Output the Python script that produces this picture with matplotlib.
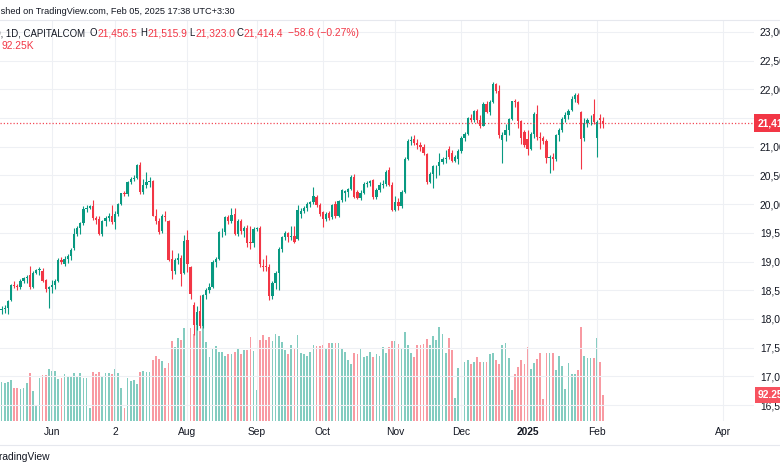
import numpy as np
import matplotlib.pyplot as plt
from matplotlib import transforms
from matplotlib.lines import Line2D

# daily candles, US100 CFD, 2024-05-10 .. 2025-02-05 (one entry per weekday bar)
opens = [
    18160, 18170, 18190, 18330, 18600, 18580, 18560, 18660, 18710, 18760,
    18560, 18800, 18850, 18840, 18680, 18520, 18560, 18590, 18670, 19030,
    18960, 19040, 19100, 19230, 19480, 19580, 19670, 19920, 19940, 19960,
    19760, 19740, 19480, 19700, 19760, 19800, 19690, 19830, 20000, 20190,
    20170, 20390, 20440, 20460, 20680, 20210, 20330, 20380, 20400, 19800,
    19700, 19530, 19800, 19700, 19040, 18840, 19030, 19060, 18800, 19370,
    18900, 18240, 17900, 18140, 17880, 18420, 18510, 18560, 19000, 19050,
    19510, 19520, 19770, 19710, 19830, 19480, 19710, 19530, 19580, 19340,
    19330, 19570, 19590, 18930, 18920, 18910, 18400, 18630, 18800, 19220,
    19430, 19500, 19430, 19440, 19400, 19830, 19880, 19930, 20000, 20030,
    20130, 19980, 19860, 19740, 19840, 19780, 20000, 19800, 20070, 20200,
    20210, 20270, 20480, 20210, 20110, 20200, 20360, 20370, 20420, 20120,
    20250, 20340, 20350, 20590, 20340, 19900, 20040, 19970, 20220, 20790,
    21100, 21130, 21070, 21030, 20990, 20870, 20390, 20530, 20660, 20670,
    20740, 20780, 20960, 20900, 20760, 20780, 20930, 21160, 21230, 21510,
    21460, 21620, 21470, 21370, 21750, 21600, 21780, 22090, 21980, 21120,
    21200, 21300, 21490, 21800, 21780, 21450, 21250, 21140, 20970, 21230,
    21580, 21170, 21150, 21100, 20800, 20830, 20780, 21200, 21290, 21480,
    21560, 21640, 21840, 21900, 21600, 21150, 21410, 21460, 21580, 21150,
    21500, 21456.5,
]
highs = [
    18220, 18250, 18330, 18610, 18660, 18610, 18700, 18730, 18770, 18920,
    18830, 18870, 18910, 18880, 18700, 18580, 18680, 18700, 19060, 19080,
    19090, 19130, 19240, 19590, 19620, 19690, 19960, 19980, 19990, 20080,
    19800, 19790, 19720, 19790, 19840, 19990, 19880, 20020, 20200, 20230,
    20400, 20470, 20500, 20700, 20740, 20440, 20560, 20480, 20420, 19920,
    19760, 19830, 19880, 19730, 19200, 19060, 19150, 19110, 19470, 19550,
    18920, 18290, 18230, 18420, 18440, 18540, 18620, 19030, 19080, 19530,
    19580, 19790, 19810, 19930, 19930, 19740, 19740, 19620, 19640, 19620,
    19600, 19610, 19620, 19050, 19120, 18960, 18660, 18840, 19250, 19450,
    19530, 19520, 19620, 19620, 19990, 19930, 19960, 20030, 20060, 20300,
    20160, 20020, 19890, 19870, 19880, 20010, 20060, 20070, 20260, 20250,
    20290, 20500, 20520, 20250, 20240, 20380, 20400, 20430, 20440, 20280,
    20380, 20420, 20600, 20640, 20380, 20150, 20110, 20240, 20820, 21130,
    21180, 21210, 21130, 21090, 21050, 20900, 20560, 20690, 20690, 20900,
    20830, 20940, 21010, 20940, 20850, 20960, 21180, 21260, 21520, 21570,
    21640, 21660, 21560, 21780, 21790, 21820, 22130, 22110, 22080, 21260,
    21400, 21500, 21800, 21830, 21800, 21470, 21300, 21290, 21250, 21600,
    21720, 21250, 21180, 21130, 20850, 20900, 21220, 21320, 21520, 21600,
    21650, 21880, 21930, 21940, 21620, 21500, 21500, 21560, 21840, 21470,
    21580, 21515.9,
]
lows = [
    18080, 18110, 18080, 18310, 18540, 18500, 18530, 18620, 18630, 18530,
    18540, 18790, 18760, 18640, 18470, 18200, 18450, 18520, 18650, 18950,
    18920, 18980, 19030, 19210, 19440, 19480, 19640, 19860, 19910, 19720,
    19660, 19460, 19440, 19620, 19700, 19660, 19560, 19800, 19980, 20150,
    20150, 20350, 20400, 20440, 20170, 20180, 20290, 20300, 19790, 19650,
    19480, 19500, 19700, 19010, 18700, 18790, 18950, 18580, 18780, 18820,
    18340, 17720, 17800, 17840, 17850, 18350, 18450, 18540, 18900, 19030,
    19420, 19460, 19660, 19680, 19460, 19440, 19480, 19420, 19250, 19220,
    19250, 19530, 18900, 18840, 18830, 18330, 18350, 18520, 18500, 19170,
    19380, 19350, 19380, 19320, 19380, 19760, 19840, 19880, 19950, 20000,
    19950, 19790, 19600, 19700, 19720, 19740, 19760, 19780, 20040, 20060,
    20120, 20240, 20100, 20090, 20080, 20180, 20300, 20310, 20090, 20090,
    20220, 20280, 20320, 20310, 19880, 19880, 19900, 19930, 20200, 20770,
    21040, 21030, 20960, 20920, 20850, 20360, 20370, 20280, 20450, 20500,
    20700, 20720, 20780, 20730, 20740, 20700, 20900, 21100, 21210, 21430,
    21440, 21420, 21320, 21360, 21590, 21560, 21760, 21930, 21150, 20710,
    21100, 21200, 21470, 21690, 21330, 21050, 20990, 20850, 20940, 21150,
    21120, 20960, 21050, 20710, 20540, 20600, 20750, 21100, 21260, 21440,
    21480, 21620, 21780, 21740, 20620, 21100, 21350, 21380, 21400, 20830,
    21320, 21323.0,
]
closes = [
    18170, 18190, 18320, 18590, 18580, 18550, 18670, 18710, 18730, 18560,
    18800, 18850, 18870, 18660, 18520, 18560, 18600, 18660, 19030, 18990,
    19050, 19100, 19210, 19480, 19590, 19670, 19920, 19940, 19960, 19760,
    19720, 19480, 19700, 19760, 19800, 19690, 19830, 20000, 20190, 20170,
    20390, 20440, 20460, 20680, 20210, 20330, 20380, 20410, 19800, 19700,
    19520, 19800, 19780, 19030, 18830, 19020, 19060, 18780, 19360, 18950,
    18440, 17900, 18130, 17870, 18420, 18510, 18560, 19000, 19040, 19510,
    19520, 19770, 19710, 19820, 19480, 19710, 19530, 19580, 19330, 19320,
    19570, 19590, 18950, 18900, 18910, 18400, 18630, 18810, 19220, 19430,
    19500, 19430, 19440, 19340, 19900, 19880, 19930, 20000, 20030, 20140,
    19980, 19830, 19740, 19830, 19760, 19990, 19790, 20050, 20240, 20230,
    20270, 20470, 20130, 20110, 20200, 20360, 20370, 20400, 20120, 20250,
    20340, 20350, 20560, 20340, 19900, 20040, 19970, 20220, 20790, 21100,
    21120, 21070, 21030, 20990, 20890, 20390, 20530, 20660, 20670, 20740,
    20780, 20800, 20820, 20760, 20830, 20930, 21160, 21230, 21510, 21460,
    21620, 21470, 21370, 21750, 21600, 21780, 22090, 21980, 21200, 21200,
    21300, 21490, 21790, 21780, 21450, 21150, 21030, 20970, 21230, 21580,
    21170, 21150, 21100, 20800, 20830, 20780, 21200, 21290, 21480, 21560,
    21620, 21840, 21900, 21770, 21140, 21410, 21460, 21470, 21440, 21440,
    21473, 21414.4,
]
volumes = [  # thousands
    142, 138, 142, 146, 120, 118, 114, 120, 138, 174,
    108, 54, 154, 164, 164, 186, 180, 180, 150, 156,
    170, 162, 162, 173, 158, 173, 156, 154, 48, 175,
    170, 178, 162, 174, 174, 170, 186, 174, 118, 48,
    154, 144, 149, 134, 178, 180, 178, 178, 218, 234,
    222, 216, 192, 210, 288, 266, 300, 290, 336, 360,
    334, 312, 360, 324, 348, 286, 230, 262, 270, 250,
    250, 235, 240, 242, 250, 264, 242, 254, 254, 302,
    252, 110, 290, 310, 290, 302, 288, 312, 306, 286,
    254, 242, 274, 262, 310, 244, 240, 235, 250, 274,
    269, 270, 274, 264, 282, 282, 282, 282, 264, 250,
    218, 206, 246, 240, 264, 230, 235, 250, 230, 242,
    234, 266, 246, 266, 288, 288, 278, 262, 322, 274,
    246, 230, 274, 274, 278, 294, 274, 306, 290, 340,
    312, 244, 300, 254, 84, 190, 244, 212, 218, 204,
    214, 230, 212, 211, 212, 240, 244, 218, 204, 272,
    281, 226, 112, 168, 194, 218, 204, 266, 186, 210,
    222, 244, 78, 246, 246, 246, 182, 233, 198, 114,
    208, 170, 170, 184, 340, 235, 226, 226, 226, 298,
    212, 92.25,
]

month_pos = [16, 36, 59, 81, 102, 125, 146, 167, 189, 229]
month_labels = ["Jun", "2", "Aug", "Sep", "Oct", "Nov", "Dec", "2025", "Feb", "Apr"]
price_ticks = list(range(16500, 23001, 500))

UP = "#089981"
DOWN = "#F23645"
UP_VOL = "#83CCC0"
DOWN_VOL = "#F89AA2"
TEXT = "#131722"
GRID = "#EEF0F4"

plt.rcParams["font.family"] = ["Liberation Sans", "DejaVu Sans"]

W, H = 780, 470
fig = plt.figure(figsize=(W / 100, H / 100), dpi=100)

# chart pane in pixels: x 0..754, y 20..421
ax = fig.add_axes([0, (H - 421) / H, 754 / W, 401 / H])
vax = ax.twinx()
ax.set_zorder(vax.get_zorder() + 1)
ax.patch.set_visible(False)

x = np.arange(len(closes))
o = np.array(opens)
hi = np.array(highs)
lo = np.array(lows)
c = np.array(closes)
up = c >= o

vax.bar(x, volumes, width=0.55, color=np.where(up, UP_VOL, DOWN_VOL), linewidth=0)
vax.set_ylim(0, 401 * 3.6)
vax.set_yticks([])
for s in vax.spines.values():
    s.set_visible(False)

colors = np.where(up, UP, DOWN)
ax.vlines(x, lo, hi, colors=colors, linewidth=0.8)
ax.bar(x, np.maximum(np.abs(c - o), 8), bottom=np.minimum(o, c), width=0.72,
       color=colors, linewidth=0)

ax.set_xlim(-0.5, 238.9)
ax.set_ylim(16223, 23209)
for s in ax.spines.values():
    s.set_visible(False)

ax.set_yticks(price_ticks)
ax.set_yticklabels([f"{v:,}" for v in price_ticks])
ax.yaxis.tick_right()
ax.set_xticks(month_pos)
ax.set_xticklabels(month_labels)
ax.tick_params(axis="y", length=0, pad=4.3, labelsize=7.4, labelcolor=TEXT)
ax.tick_params(axis="x", length=0, pad=4, labelsize=7.4, labelcolor=TEXT)
for lab in ax.get_xticklabels():
    if lab.get_text() == "2025":
        lab.set_fontweight("bold")
ax.grid(color=GRID, linewidth=0.8)
ax.set_axisbelow(True)

# last price line and axis labels
ax.axhline(closes[-1], color=DOWN, linewidth=0.9, linestyle=(0, (1, 1.6)), alpha=0.9)
ptrans = transforms.blended_transform_factory(fig.transFigure, ax.transData)
fig.text(758 / W, closes[-1], f"{closes[-1]:,.1f}", transform=ptrans,
         ha="left", va="center", color="white", fontsize=7.4, fontweight="bold",
         bbox=dict(boxstyle="square,pad=0.35", fc=DOWN, ec="none"))
vtrans = transforms.blended_transform_factory(fig.transFigure, vax.transData)
fig.text(758 / W, volumes[-1], f"{volumes[-1]:.2f}K", transform=vtrans,
         ha="left", va="center", color="white", fontsize=7.4, fontweight="bold",
         bbox=dict(boxstyle="square,pad=0.3", fc="#F7525F", ec="none"))

# header
fig.text(235 / W, 1 - 12 / H, "Published on TradingView.com, Feb 05, 2025 17:38 UTC+3:30",
         ha="right", va="center", fontsize=6.6, color=TEXT)
fig.add_artist(Line2D([0, 1], [1 - 20 / H] * 2, color="#E6E8EE", linewidth=0.8))

y1 = 1 - 33 / H
fig.text(85 / W, y1, "US100, 1D, CAPITALCOM", ha="right", va="center", fontsize=6.9, color=TEXT)
legend_parts = [
    (89, "O", TEXT), (97, f"{opens[-1]:,.1f}", DOWN),
    (140, "H", TEXT), (147, f"{highs[-1]:,.1f}", DOWN),
    (189.5, "L", TEXT), (195, f"{lows[-1]:,.1f}", DOWN),
    (237, "C", TEXT), (244, f"{closes[-1]:,.1f}", DOWN),
    (288, "\u221258.6 (\u22120.27%)", DOWN),
]
for px, txt, col in legend_parts:
    fig.text(px / W, y1, txt, ha="left", va="center", fontsize=7.4 if col == DOWN else 6.9,
             color=col)
fig.text(2 / W, 1 - 46 / H, f"{volumes[-1]:.2f}K", ha="left", va="center",
         fontsize=7.4, color=DOWN)

# footer
fig.add_artist(Line2D([0, 1], [1 - 445 / H] * 2, color="#E6E8EE", linewidth=0.8))
fig.text(50 / W, 1 - 457 / H, "TradingView", ha="right", va="center",
         fontsize=7.4, color=TEXT)

fig.savefig("out.png", dpi=100)
